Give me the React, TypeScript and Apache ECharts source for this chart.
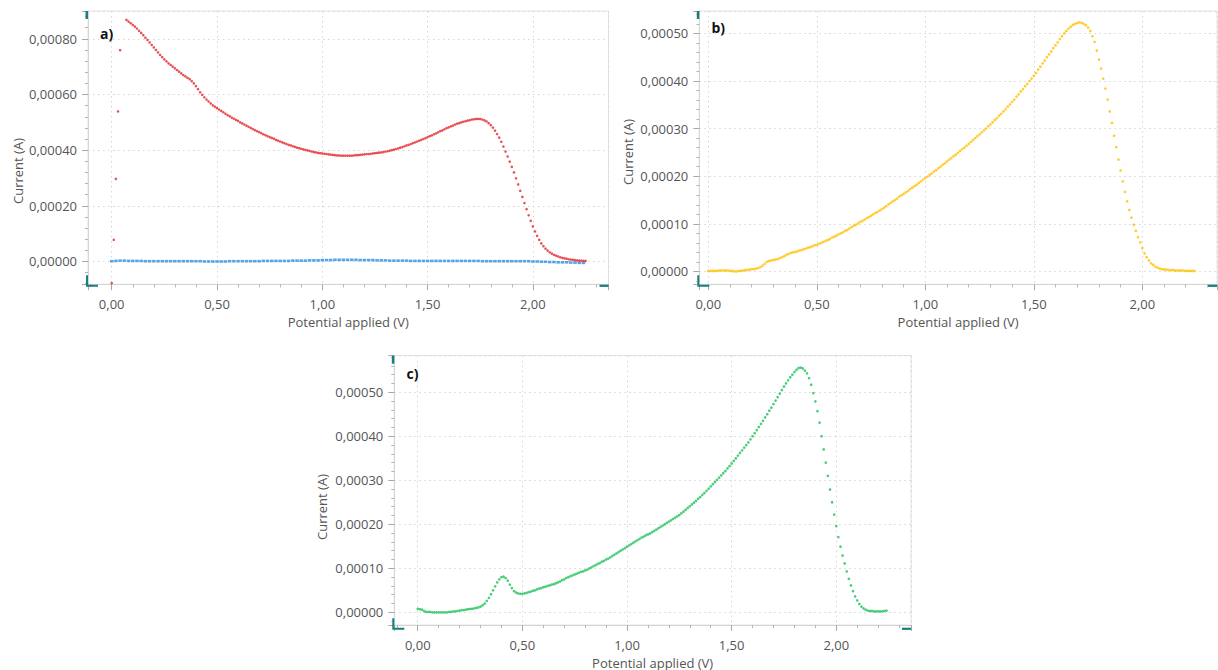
import React, { useEffect, useRef } from "react";
import * as echarts from "echarts";

// Potential sweep of the instrument (V): every series starts at 0,00 V with a 0,01 V step
const POTENTIAL_START_V = 0;
const POTENTIAL_STEP_V = 0.01;
const BLUE_STEP_V = 0.02;
// Currents below are given in µA, converted to A for plotting
const MICRO = 1e-6;

// Panel a) red series, 0,00 … 2,25 V (null = point outside the visible range)
const redCurrentUA = [
  -78, 78, 297, 539, 759, null, null, 868, 862, 856,
  850, 844, 837, 829, 821, 813, 804, 796, 787, 778,
  769, 760, 751, 742, 734, 726, 719, 712, 706, 700,
  694, 688, 682, 676, 670, 665, 660, 655, 648, 640,
  630, 619, 608, 599, 590, 582, 575, 568, 561, 556,
  551, 546, 541, 536, 531, 526, 522, 517, 513, 509,
  505, 500, 496, 492, 488, 484, 480, 476, 472, 468,
  465, 461, 457, 454, 450, 447, 444, 441, 437, 434,
  431, 428, 425, 422, 419, 417, 414, 412, 409, 407,
  405, 403, 401, 399, 397, 395, 393, 392, 390, 389,
  388, 387, 386, 385, 384, 383, 382, 381, 381, 380,
  380, 380, 380, 380, 380, 381, 382, 382, 383, 384,
  385, 386, 386, 387, 388, 389, 390, 391, 392, 393,
  395, 396, 398, 400, 402, 404, 406, 409, 411, 414,
  417, 419, 422, 425, 428, 431, 434, 437, 440, 443,
  447, 450, 453, 457, 460, 464, 468, 471, 475, 479,
  482, 485, 488, 492, 495, 497, 500, 502, 504, 506,
  508, 510, 511, 512, 512, 512, 510, 507, 503, 497,
  490, 481, 470, 458, 445, 430, 413, 395, 377, 359,
  340, 320, 299, 277, 254, 232, 210, 188, 166, 146,
  126, 108, 92, 78, 65, 55, 46, 39, 33, 28,
  24, 21, 18, 15, 13, 11, 10, 8, 7, 6,
  5, 4, 3, 3, 2, 2,
];

// Panel a) blue series, 0,00 … 2,24 V every 0,02 V
const blueCurrentUA = [
  1, 2, 3, 3, 2, 2, 2, 2, 1, 1,
  1, 1, 1, 1, 1, 1, 1, 1, 1, 1,
  1, 1, 0, 0, 0, 0, 0, 0, 1, 1,
  1, 1, 1, 1, 1, 1, 2, 2, 2, 2,
  2, 2, 2, 3, 3, 3, 3, 4, 4, 4,
  5, 5, 5, 6, 6, 6, 6, 6, 6, 5,
  5, 5, 5, 4, 4, 4, 3, 3, 3, 3,
  3, 2, 2, 2, 2, 2, 2, 2, 2, 2,
  2, 2, 2, 2, 2, 2, 2, 2, 1, 1,
  1, 1, 1, 1, 1, 1, 1, 1, 1, 1,
  0, 0, -1, -1, -2, -2, -3, -3, -3, -4,
  -4, -5, -5,
];

// Panel b) yellow series, 0,00 … 2,24 V
const yellowCurrentUA = [
  1, 1, 1, 1, 1, 2, 2, 2, 2, 2,
  1, 1, 0, 0, 1, 1, 2, 3, 3, 4,
  5, 5, 6, 7, 9, 12, 16, 20, 22, 23,
  24, 25, 26, 28, 30, 32, 35, 37, 39, 40,
  41, 42, 44, 45, 47, 48, 50, 51, 53, 55,
  56, 58, 60, 62, 64, 66, 68, 71, 73, 75,
  78, 80, 82, 85, 87, 90, 93, 96, 98, 101,
  104, 106, 109, 112, 114, 117, 120, 123, 125, 128,
  131, 134, 137, 141, 144, 147, 150, 153, 157, 160,
  163, 166, 169, 173, 176, 179, 182, 186, 189, 193,
  196, 199, 203, 206, 210, 213, 217, 220, 224, 227,
  231, 235, 238, 242, 245, 249, 253, 257, 260, 264,
  268, 272, 276, 280, 284, 288, 292, 296, 300, 305,
  309, 313, 318, 322, 327, 331, 336, 341, 346, 351,
  356, 361, 367, 372, 378, 383, 389, 394, 400, 405,
  411, 417, 424, 430, 437, 443, 450, 456, 462, 469,
  475, 481, 488, 494, 500, 505, 510, 514, 518, 520,
  522, 523, 522, 520, 517, 512, 505, 494, 482, 464,
  445, 426, 405, 384, 361, 336, 312, 285, 261, 235,
  212, 189, 167, 147, 129, 113, 98, 85, 72, 61,
  49, 38, 30, 23, 17, 14, 10, 8, 6, 5,
  4, 4, 3, 3, 3, 2, 2, 2, 2, 2,
  1, 1, 1, 1, 1,
];

// Panel c) green series, 0,00 … 2,24 V
const greenCurrentUA = [
  8, 7, 6, 3, 1, 1, 1, 0, 0, 0,
  0, 0, 0, 0, 0, 1, 1, 2, 2, 3,
  4, 5, 5, 6, 7, 8, 8, 9, 10, 11,
  13, 16, 20, 26, 33, 41, 50, 59, 68, 75,
  80, 81, 78, 72, 63, 55, 48, 45, 43, 42,
  42, 43, 44, 46, 47, 49, 50, 52, 54, 55,
  57, 58, 60, 61, 63, 64, 66, 68, 70, 73,
  75, 78, 80, 82, 84, 86, 88, 90, 92, 93,
  95, 97, 100, 102, 105, 107, 110, 112, 115, 117,
  120, 122, 125, 128, 131, 134, 137, 140, 143, 146,
  149, 152, 155, 158, 161, 164, 167, 170, 172, 175,
  177, 179, 182, 185, 188, 191, 194, 197, 200, 203,
  206, 209, 212, 215, 218, 221, 225, 229, 233, 237,
  241, 245, 249, 253, 258, 262, 267, 271, 276, 281,
  286, 291, 296, 301, 306, 311, 316, 321, 327, 332,
  338, 344, 350, 356, 362, 368, 374, 380, 386, 393,
  400, 407, 414, 421, 428, 435, 443, 450, 458, 465,
  473, 481, 489, 497, 505, 513, 520, 527, 534, 540,
  546, 551, 555, 556, 554, 549, 543, 532, 517, 498,
  479, 457, 431, 400, 370, 340, 310, 279, 250, 222,
  196, 171, 149, 129, 111, 93, 76, 61, 48, 36,
  27, 19, 13, 9, 6, 4, 3, 3, 2, 2,
  2, 2, 2, 3, 4,
];

const panelLabels = ["a)", "b)", "c)"];
const xAxisTitle = "Potential applied (V)";
const yAxisTitle = "Current (A)";

// Visible axis ranges of the three panels
const xRanges = [
  [-0.1125, 2.359],
  [-0.0415, 2.344],
  [-0.112, 2.357],
];
const yRanges = [
  [-0.000082, 0.0009],
  [-0.000027, 0.000547],
  [-0.0000288, 0.000583],
];
const xInterval = 0.5;
const yIntervals = [0.0002, 0.0001, 0.0001];

const COLORS = {
  red: "#e3262b",
  blue: "#2d8fdd",
  yellow: "#ffc000",
  green: "#1fc25b",
  teal: "#16807e",
  text: "#555555",
};

const FONT = "'Open Sans', 'Noto Sans', sans-serif";

const grids = [
  { left: 88, top: 11, width: 520.5, height: 273.3 },
  { left: 699.3, top: 11, width: 517.7, height: 273.3 },
  { left: 394.3, top: 355.7, width: 516.7, height: 271.6 },
];

const panelLabelPos = [
  [100, 33],
  [711.5, 27],
  [406.5, 373],
];
const yTitlePos = [
  [17.5, 171],
  [628, 152],
  [322, 507],
];

function toPoints(values: (number | null)[], step: number) {
  const pts: number[][] = [];
  values.forEach((v, i) => {
    if (v === null) return;
    const x = Math.round((POTENTIAL_START_V + i * step) * 100) / 100;
    pts.push([x, v * MICRO]);
  });
  return pts;
}

function fmtX(v: number) {
  if (Math.abs(v) < 1e-9) v = 0;
  return v.toFixed(2).replace(".", ",");
}
function fmtY(v: number) {
  if (Math.abs(v) < 1e-12) v = 0;
  return v.toFixed(5).replace(".", ",");
}

function buildOption() {
  const axisCommon = {
    axisLine: { show: true, onZero: false, lineStyle: { color: "#d4d4d4", width: 1 } },
    axisTick: { show: true, length: 6, lineStyle: { color: "#a8a8a8" } },
    minorTick: { show: true, splitNumber: 5, length: 3, lineStyle: { color: "#b5b5b5" } },
    splitLine: { show: true, lineStyle: { color: "#d6d6d6", type: [1.5, 3.5], width: 1 } },
  };

  const xAxis = grids.map((_, i) => ({
    type: "value",
    gridIndex: i,
    min: xRanges[i][0],
    max: xRanges[i][1],
    splitNumber: 5,
    minInterval: xInterval,
    maxInterval: xInterval,
    name: xAxisTitle,
    nameLocation: "middle",
    nameGap: 31,
    nameTextStyle: { color: COLORS.text, fontSize: 13, fontFamily: FONT },
    ...axisCommon,
    axisLabel: {
      show: true,
      showMinLabel: false,
      showMaxLabel: false,
      margin: 13,
      color: COLORS.text,
      fontSize: 13,
      fontFamily: FONT,
      formatter: fmtX,
    },
  }));

  const yAxis = grids.map((_, i) => ({
    type: "value",
    gridIndex: i,
    min: yRanges[i][0],
    max: yRanges[i][1],
    splitNumber: 5,
    minInterval: yIntervals[i],
    maxInterval: yIntervals[i],
    ...axisCommon,
    axisLabel: {
      show: true,
      showMinLabel: false,
      showMaxLabel: false,
      margin: 11,
      color: COLORS.text,
      fontSize: 13,
      fontFamily: FONT,
      formatter: fmtY,
    },
  }));

  const series = [
    {
      type: "scatter",
      name: "red",
      xAxisIndex: 0,
      yAxisIndex: 0,
      data: toPoints(redCurrentUA, POTENTIAL_STEP_V),
      symbol: "circle",
      symbolSize: 2.6,
      itemStyle: { color: COLORS.red },
      z: 3,
    },
    {
      type: "scatter",
      name: "blue",
      xAxisIndex: 0,
      yAxisIndex: 0,
      data: toPoints(blueCurrentUA, BLUE_STEP_V),
      symbol: "rect",
      symbolSize: [3.5, 2.6],
      itemStyle: { color: COLORS.blue },
      z: 2,
    },
    {
      type: "scatter",
      name: "yellow",
      xAxisIndex: 1,
      yAxisIndex: 1,
      data: toPoints(yellowCurrentUA, POTENTIAL_STEP_V),
      symbol: "circle",
      symbolSize: 2.7,
      itemStyle: { color: COLORS.yellow },
    },
    {
      type: "scatter",
      name: "green",
      xAxisIndex: 2,
      yAxisIndex: 2,
      data: toPoints(greenCurrentUA, POTENTIAL_STEP_V),
      symbol: "circle",
      symbolSize: 2.7,
      itemStyle: { color: COLORS.green },
    },
  ];

  const graphic: any[] = [];
  grids.forEach((g, i) => {
    const right = g.left + g.width;
    const bottom = g.top + g.height;
    graphic.push({
      type: "text",
      x: panelLabelPos[i][0],
      y: panelLabelPos[i][1],
      style: {
        text: panelLabels[i],
        fill: "#111",
        font: `bold 14px ${FONT}`,
        align: "left",
        verticalAlign: "middle",
      },
      z: 10,
    });
    graphic.push({
      type: "text",
      x: yTitlePos[i][0],
      y: yTitlePos[i][1],
      rotation: Math.PI / 2,
      style: {
        text: yAxisTitle,
        fill: COLORS.text,
        font: `13px ${FONT}`,
        align: "center",
        verticalAlign: "middle",
      },
    });
    // teal corner handles
    graphic.push({
      type: "rect",
      shape: { x: g.left - 2.5, y: g.top, width: 2.5, height: 8 },
      style: { fill: COLORS.teal },
      z: 10,
    });
    graphic.push({
      type: "polyline",
      shape: {
        points: [
          [g.left - 1, bottom - 9],
          [g.left - 1, bottom + 1.5],
          [g.left + 10, bottom + 1.5],
        ],
      },
      style: { stroke: COLORS.teal, lineWidth: 2, fill: "none" },
      z: 10,
    });
    graphic.push({
      type: "line",
      shape: { x1: right - 9, y1: bottom + 1.5, x2: right, y2: bottom + 1.5 },
      style: { stroke: COLORS.teal, lineWidth: 2.2 },
      z: 10,
    });
  });

  return {
    animation: false,
    backgroundColor: "#ffffff",
    grid: grids.map((g) => ({
      ...g,
      show: true,
      borderColor: "#e2e2e2",
      borderWidth: 1,
      backgroundColor: "transparent",
      containLabel: false,
    })),
    xAxis,
    yAxis,
    series,
    graphic,
  };
}

export default function App() {
  const ref = useRef<HTMLDivElement>(null);
  useEffect(() => {
    if (!ref.current) return;
    const chart = echarts.init(ref.current, null, { renderer: "svg" });
    chart.setOption(buildOption() as any);
    return () => chart.dispose();
  }, []);
  return (
    <div
      ref={ref}
      style={{ position: "absolute", left: 0, top: 0, width: 1218, height: 670, background: "#fff" }}
    />
  );
}
